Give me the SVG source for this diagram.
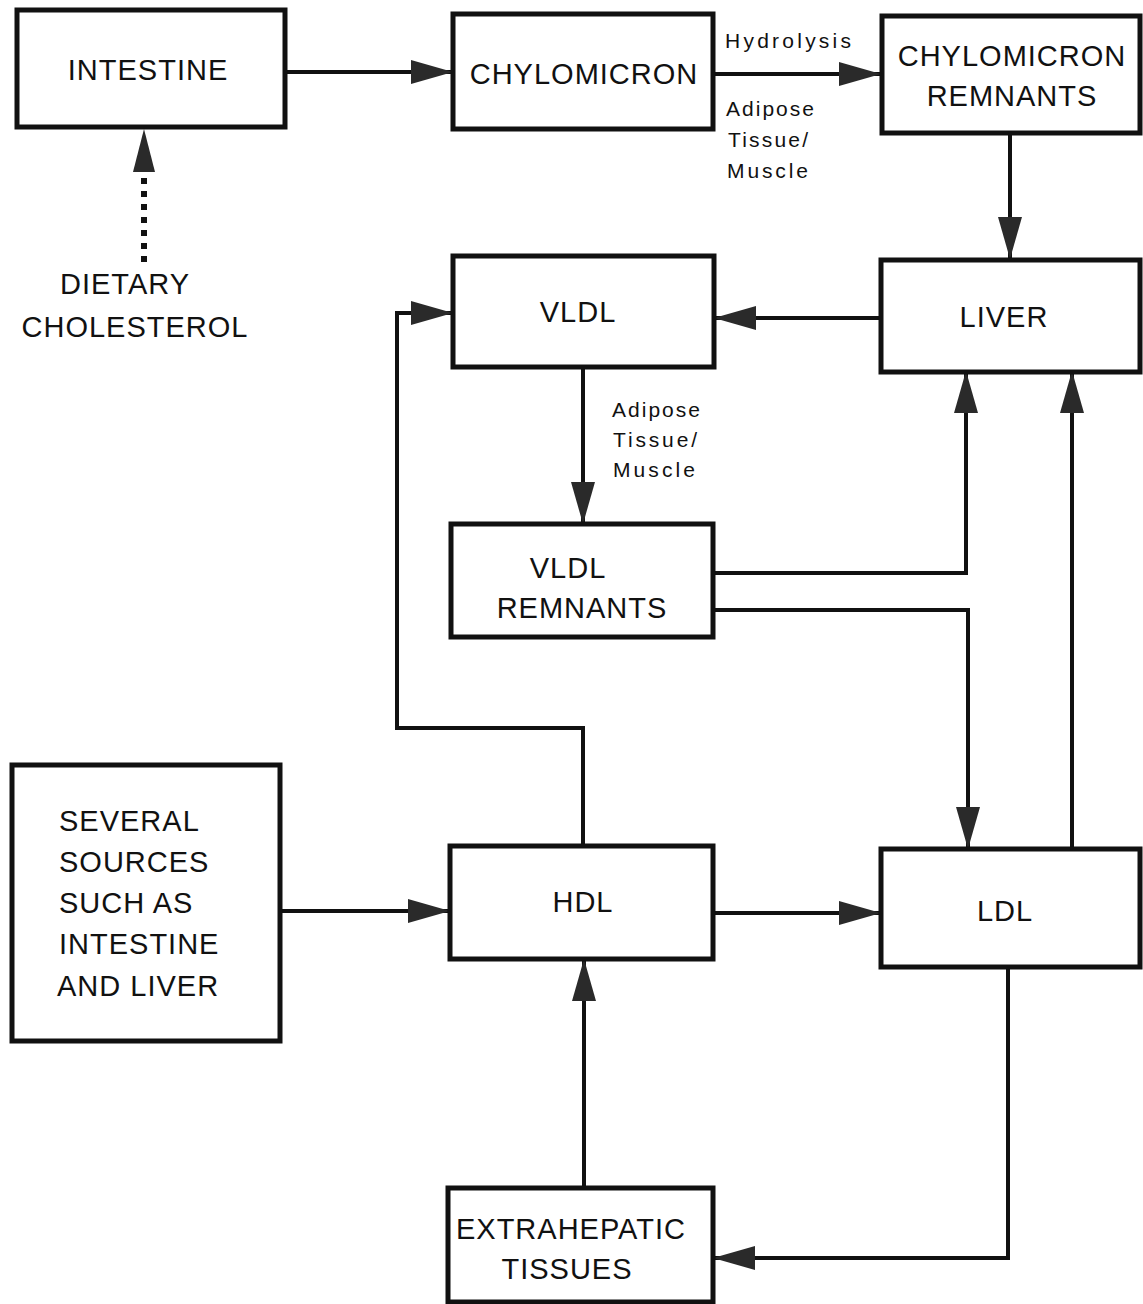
<svg xmlns="http://www.w3.org/2000/svg" width="1143" height="1304" viewBox="0 0 1143 1304">
<style>
.box{fill:#fff;stroke:#111;stroke-width:5}
.t{font-family:"Liberation Sans",Arial,sans-serif;font-size:29px;fill:#111;text-anchor:middle;letter-spacing:1px}
.tl{font-family:"Liberation Sans",Arial,sans-serif;font-size:29px;fill:#111;letter-spacing:1px}
.s{font-family:"Liberation Sans",Arial,sans-serif;font-size:21px;fill:#111}
.c{fill:none;stroke:#111;stroke-width:4;marker-end:url(#ah)}
</style>
<defs>
<marker id="ah" markerUnits="userSpaceOnUse" markerWidth="44" markerHeight="24" refX="42" refY="12" orient="auto">
<path d="M0,0 L42,12 L0,24 z" fill="#2a2a2a"/>
</marker>
</defs>
<rect width="1143" height="1304" fill="#fff"/>
<g id="connectors">
<path class="c" d="M285,72 H453"/>
<path class="c" d="M713,74 H881"/>
<path class="c" d="M1010,133 V259"/>
<path class="c" d="M881,318 H714"/>
<path class="c" d="M583,367 V524"/>
<path class="c" d="M713,573 H966 V371"/>
<path class="c" d="M713,610 H968 V849"/>
<path class="c" d="M1072,849 V371"/>
<path class="c" d="M583,846 V728 H397 V313 H453"/>
<path class="c" d="M280,911 H450"/>
<path class="c" d="M713,913 H881"/>
<path class="c" d="M1008,967 V1258 H713"/>
<path class="c" d="M584,1188 V959"/>
<path d="M144,262 V176" fill="none" stroke="#111" stroke-width="6" stroke-dasharray="6,7"/>
<polygon points="133,172 155,172 144,129" fill="#2a2a2a"/>
</g>
<g id="intestine"><rect class="box" x="17" y="10" width="268" height="117"/><text class="t" x="148" y="80">INTESTINE</text></g>
<g id="chylomicron"><rect class="box" x="453" y="14" width="260" height="115"/><text class="t" x="584" y="84">CHYLOMICRON</text></g>
<g id="chylomicron-remnants"><rect class="box" x="882" y="16" width="258" height="117"/><text class="t" x="1012" y="66">CHYLOMICRON</text><text class="t" x="1012" y="106">REMNANTS</text></g>
<g id="liver"><rect class="box" x="881" y="260" width="259" height="112"/><text class="t" x="1004" y="327">LIVER</text></g>
<g id="vldl"><rect class="box" x="453" y="256" width="261" height="111"/><text class="t" x="578" y="322">VLDL</text></g>
<g id="vldl-remnants"><rect class="box" x="451" y="524" width="262" height="113"/><text class="t" x="568" y="578">VLDL</text><text class="t" x="582" y="618">REMNANTS</text></g>
<g id="sources"><rect class="box" x="12" y="765" width="268" height="276"/>
<text class="tl" x="59" y="831">SEVERAL</text><text class="tl" x="59" y="872">SOURCES</text><text class="tl" x="59" y="913">SUCH AS</text><text class="tl" x="59" y="954">INTESTINE</text><text class="tl" x="57" y="996">AND LIVER</text></g>
<g id="hdl"><rect class="box" x="450" y="846" width="263" height="113"/><text class="t" x="583" y="912">HDL</text></g>
<g id="ldl"><rect class="box" x="881" y="849" width="259" height="118"/><text class="t" x="1005" y="921">LDL</text></g>
<g id="extrahepatic"><rect class="box" x="448" y="1188" width="265" height="114"/><text class="t" x="571" y="1239">EXTRAHEPATIC</text><text class="t" x="567" y="1279">TISSUES</text></g>
<g id="dietary"><text class="t" x="125" y="294">DIETARY</text><text class="t" x="135" y="337">CHOLESTEROL</text></g>
<g id="labels">
<text class="s" x="725" y="48" textLength="126" lengthAdjust="spacing">Hydrolysis</text>
<text class="s" x="726" y="116" textLength="88" lengthAdjust="spacing">Adipose</text>
<text class="s" x="728" y="147" textLength="80" lengthAdjust="spacing">Tissue/</text>
<text class="s" x="727" y="178" textLength="81" lengthAdjust="spacing">Muscle</text>
<text class="s" x="612" y="417" textLength="88" lengthAdjust="spacing">Adipose</text>
<text class="s" x="613" y="447" textLength="84" lengthAdjust="spacing">Tissue/</text>
<text class="s" x="613" y="477" textLength="82" lengthAdjust="spacing">Muscle</text>
</g>
</svg>
